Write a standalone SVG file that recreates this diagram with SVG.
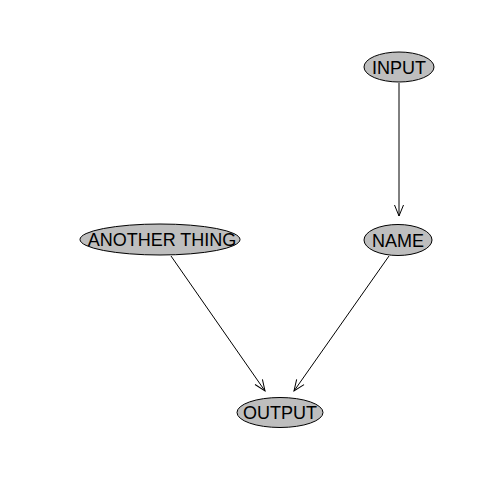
<svg xmlns="http://www.w3.org/2000/svg" width="480" height="480" viewBox="0 0 480 480">
<style>
.n ellipse{fill:#bebebe;stroke:#000;stroke-width:1}
.n text{font-family:"Liberation Sans",Arial,sans-serif;font-size:18px;text-anchor:middle;fill:#000}
.e line{stroke:#000;stroke-width:1}
</style>
<defs>
<marker id="a" markerWidth="14" markerHeight="14" refX="12" refY="7" orient="auto" markerUnits="userSpaceOnUse">
<path d="M1,2.5 L12,7 L1,11.5" fill="none" stroke="#000" stroke-width="1"/>
</marker>
</defs>
<rect width="480" height="480" fill="#fff"/>
<g id="edges" class="e">
<line x1="399" y1="83" x2="399" y2="216" marker-end="url(#a)"/>
<line x1="171" y1="256" x2="265" y2="391" marker-end="url(#a)"/>
<line x1="389" y1="256" x2="294" y2="391" marker-end="url(#a)"/>
</g>
<g id="INPUT" class="n"><ellipse cx="399" cy="67" rx="35" ry="15"/><text x="399" y="73.5">INPUT</text></g>
<g id="ANOTHER_THING" class="n"><ellipse cx="160" cy="239.5" rx="80" ry="15.5"/><text x="162" y="246">ANOTHER THING</text></g>
<g id="NAME" class="n"><ellipse cx="398" cy="240" rx="34" ry="15.5"/><text x="398" y="246.5">NAME</text></g>
<g id="OUTPUT" class="n"><ellipse cx="280" cy="412.5" rx="43" ry="15"/><text x="280" y="419">OUTPUT</text></g>
</svg>
